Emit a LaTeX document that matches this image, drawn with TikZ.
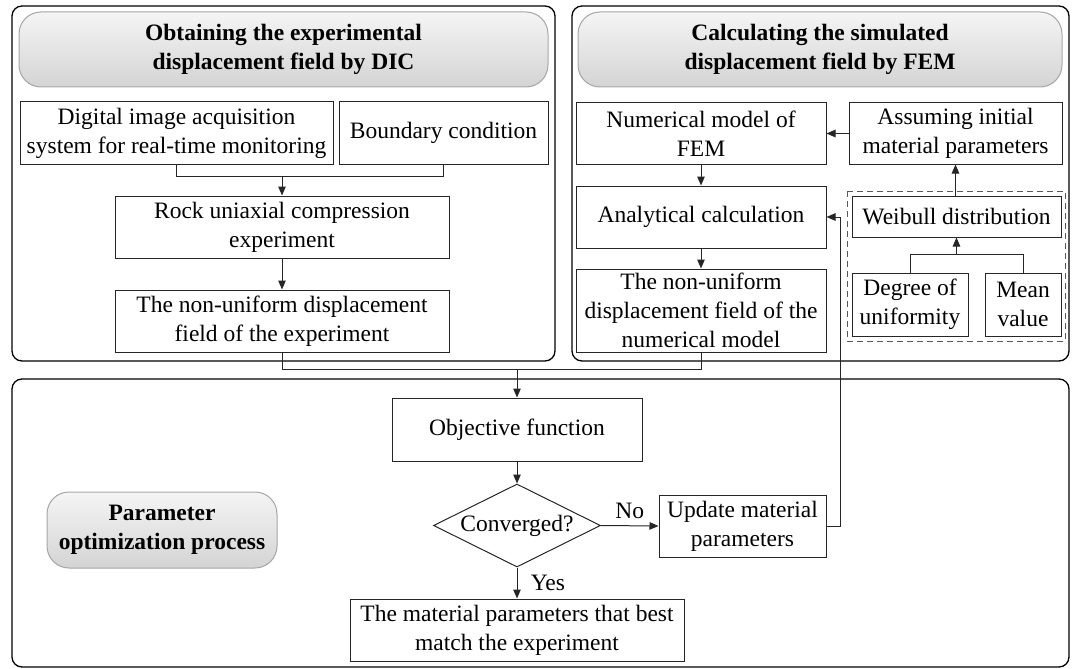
\documentclass[tikz,border=0pt]{standalone}
\usepackage{fontspec}
\setmainfont{Liberation Serif}
\usetikzlibrary{shapes.geometric,arrows.meta}
\begin{document}
\begin{tikzpicture}[x=1pt,y=-1pt,
  font=\fontsize{23.5}{29}\selectfont,
  box/.style={draw=black!85,line width=1pt,rectangle,align=center,inner sep=0pt},
  cont/.style={draw=black,line width=1.3pt,rounded corners=10pt},
  hdr/.style={draw=black!35,line width=1pt,rounded corners=22pt,top color=black!4,bottom color=black!17,align=center,inner sep=0pt,font=\fontsize{23.5}{29}\selectfont\bfseries},
  conn/.style={draw=black!85,line width=1pt},
  arr/.style={conn,-{Triangle[length=9pt,width=7.5pt]}},
  dbox/.style={draw=black!65,line width=1pt,dash pattern=on 6pt off 4pt},
]
\useasboundingbox (0,0) rectangle (1077,669);

% containers
\draw[cont] (12,6) rectangle (555,361);
\draw[cont] (572,6) rectangle (1069,361);
\draw[cont] (12,379) rectangle (1069,667);

% headers
\node[hdr,minimum width=529pt,minimum height=75pt] (hL) at (283.5,49.5) {Obtaining the experimental\\displacement field by DIC};
\node[hdr,minimum width=484pt,minimum height=75pt] (hR) at (820,49.5) {Calculating the simulated\\displacement field by FEM};
\node[hdr,minimum width=230pt,minimum height=76pt] (hB) at (162,530) {Parameter\\optimization process};

% left column
\node[box,minimum width=313pt,minimum height=62pt] (dig) at (176.5,133) {Digital image acquisition\\system for real-time monitoring};
\node[box,minimum width=209pt,minimum height=62pt] (bnd) at (443.5,133) {Boundary condition};
\node[box,minimum width=334pt,minimum height=62pt] (rock) at (282,227) {Rock uniaxial compression\\experiment};
\node[box,minimum width=334pt,minimum height=62pt] (exp) at (282,321) {The non-uniform displacement\\field of the experiment};

% right column
\node[box,minimum width=250pt,minimum height=61pt] (num) at (701,133.5) {Numerical model of\\FEM};
\node[box,minimum width=213pt,minimum height=61pt] (asm) at (955.5,133.5) {Assuming initial\\material parameters};
\node[box,minimum width=250pt,minimum height=62pt] (ana) at (701,217) {Analytical calculation};
\node[box,minimum width=250pt,minimum height=83pt] (num3) at (701,310.5) {The non-uniform\\displacement field of the\\numerical model};
\draw[dbox] (847,191) rectangle (1065,341);
\node[box,minimum width=209pt,minimum height=41pt] (wei) at (956.5,216.5) {Weibull distribution};
\node[box,minimum width=116pt,minimum height=63pt] (deg) at (910,304.5) {Degree of\\uniformity};
\node[box,minimum width=76pt,minimum height=63pt] (mean) at (1023,304.5) {Mean\\value};

% bottom
\node[box,minimum width=250pt,minimum height=63pt] (obj) at (517,429.5) {Objective function};
\node[draw=black!85,line width=1pt,diamond,aspect=2,inner sep=0pt,minimum width=167pt,minimum height=83pt] (dia) at (517,525.5) {Converged?};
\node[box,minimum width=167pt,minimum height=62pt] (upd) at (742.5,526) {Update material\\parameters};
\node[box,minimum width=334pt,minimum height=62pt] (fin) at (517,630) {The material parameters that best\\match the experiment};

% connectors left
\draw[conn] (dig.south) -- ++(0,12) -| (bnd.south);
\coordinate (jL) at (282,176);
\draw[arr] (jL) -- (rock.north);
\draw[arr] (rock.south) -- (exp.north);
\draw[conn] (exp.south) -- ++(0,17) -| (num3.south);
\coordinate (jB) at (517,369);
\draw[arr] (jB) -- (obj.north);

% connectors right
\draw[arr] (asm.west) -- (num.east);
\draw[arr] (num.south) -- (ana.north);
\draw[arr] (ana.south) -- (num3.north);
\draw[arr] (wei.north -| asm.south) -- (asm.south);
\draw[conn] (deg.north) -- ++(0,-18) -| (mean.north);
\coordinate (jW) at (956.5,255);
\draw[arr] (jW) -- (wei.south);

% connectors bottom
\draw[arr] (obj.south) -- (dia.north);
\draw[arr] (dia.east) -- node[above,inner sep=4pt,yshift=3pt] {No} (upd.west);
\draw[arr] (dia.south) -- node[right,xshift=10pt] {Yes} (fin.north);
\coordinate (jU) at (840,526);
\draw[arr] (upd.east) -- (jU) |- (ana.east);
\end{tikzpicture}
\end{document}
